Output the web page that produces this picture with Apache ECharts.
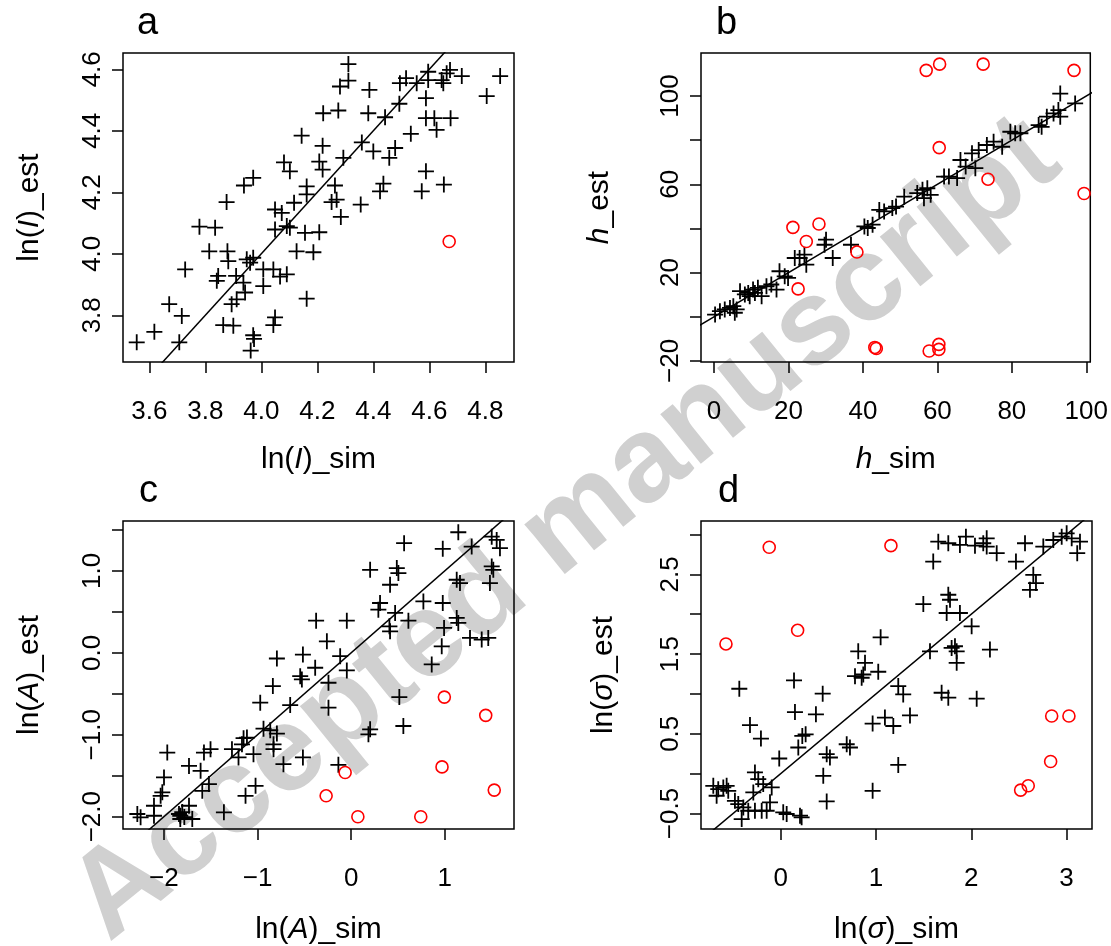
<!DOCTYPE html>
<html><head><meta charset="utf-8">
<script src="https://cdn.jsdelivr.net/npm/echarts@6/dist/echarts.min.js"></script>
<style>html,body{margin:0;padding:0;background:#fff}#c{width:1111px;height:946px}</style>
</head><body><div id="c"></div>
<script>
// ---------- data ----------
const aPlus=[[4.144,4.384],[4.081,4.297],[4.102,4.268],[3.971,4.247],[3.938,4.222],[4.162,4.219],[3.876,4.168],[4.117,4.166],[4.049,4.144],[4.073,4.133],[3.779,4.088],[3.835,4.085],[4.049,4.079],[4.091,4.090],[4.102,4.085],[4.156,4.068],[3.814,4.008],[3.879,4.008],[4.126,4.008],[3.882,3.976],[3.948,3.982],[3.971,3.987],[3.960,3.971],[3.728,3.949],[4.007,3.949],[4.043,3.949],[3.846,3.928],[3.841,3.912],[3.910,3.928],[3.936,3.906],[4.007,3.895],[4.067,3.926],[4.091,3.933],[3.942,3.874],[3.912,3.852],[3.894,3.836],[4.162,3.854],[3.671,3.836],[3.716,3.798],[4.049,3.793],[4.043,3.768],[3.864,3.768],[3.900,3.766],[3.618,3.746],[3.555,3.712],[3.707,3.712],[3.971,3.735],[3.974,3.723],[3.962,3.685],
[4.311,4.617],[4.311,4.563],[4.281,4.544],[4.386,4.533],[4.517,4.571],[4.495,4.555],[4.555,4.555],[4.596,4.592],[4.596,4.565],[4.644,4.565],[4.650,4.555],[4.674,4.598],[4.662,4.587],[4.716,4.578],[4.853,4.578],[4.805,4.513],[4.588,4.506],[4.493,4.488],[4.221,4.457],[4.275,4.466],[4.382,4.457],[4.442,4.444],[4.588,4.441],[4.618,4.441],[4.676,4.441],[4.626,4.403],[4.534,4.390],[4.219,4.351],[4.359,4.362],[4.400,4.333],[4.478,4.344],[4.457,4.312],[4.293,4.312],[4.207,4.300],[4.219,4.274],[4.588,4.268],[4.263,4.222],[4.436,4.228],[4.424,4.203],[4.573,4.203],[4.652,4.225],[4.162,4.193],[4.269,4.176],[4.251,4.168],[4.355,4.160],[4.284,4.120],[4.207,4.070],[4.186,4.005]];
const aCircle=[[4.671,4.040]];

const bPlus=[[0.3,1.0],[1.6,2.5],[2.9,3.3],[4.3,4.0],[5.6,1.8],[5.2,4.8],[6.1,3.3],[7.0,11.6],[8.3,10.1],[9.6,9.3],[9.2,10.8],[10.5,12.3],[11.0,10.8],[11.8,13.1],[12.8,9.3],[14.1,13.8],[15.4,14.6],[16.8,12.3],[17.6,20.6],[19.0,18.3],[19.9,17.6],[21.7,26.6],[23.0,26.6],[24.8,23.6],[24.3,28.1],[30.1,34.9],[29.7,32.6],[31.9,26.6],[36.8,32.6],[40.4,40.9],[41.3,40.2],[42.6,41.7],[44.4,48.4],[45.7,47.7],[47.9,49.2],[48.9,49.9],[51.1,54.4],[54.6,56.0],[56.0,57.5],[57.3,58.2],[56.4,53.7],[58.2,55.2],[61.8,63.5],[63.1,63.5],[65.3,62.8],[66.2,71.0],[67.6,68.0],[70.2,67.3],[69.3,74.0],[71.1,75.5],[73.3,77.8],[75.1,79.3],[77.4,77.0],[79.6,83.8],[80.9,83.1],[82.3,83.1],[87.2,86.8],[88.0,86.0],[89.4,90.6],[91.2,92.1],[92.5,93.6],[93.0,90.6],[93.0,101.1],[97.0,96.6]];
const bCircle=[[21.2,40.5],[28.2,42.0],[24.8,34.1],[38.4,29.3],[22.6,12.6],[43.2,-13.9],[43.6,-14.4],[57.0,111.6],[60.6,114.4],[72.3,114.4],[96.7,111.6],[60.5,76.6],[73.6,62.3],[99.4,55.8],[57.8,-15.5],[60.4,-12.5],[60.4,-14.8]];

const cPlus=[[-2.284,-1.967],[-2.249,-2.007],[-2.106,-1.866],[-2.106,-1.988],[-1.999,-1.521],[-2.017,-1.703],[-2.035,-1.745],[-1.964,-1.217],[-1.839,-1.967],[-1.825,-1.988],[-1.804,-1.943],[-1.825,-2.028],[-1.782,-2.004],[-1.732,-1.866],[-1.697,-2.028],[-1.732,-1.380],[-1.608,-1.440],[-1.572,-1.217],[-1.502,-1.176],[-1.590,-1.684],[-1.519,-1.602],[-1.359,-1.946],[-1.149,-1.042],[-1.113,-1.034],[-1.166,-1.116],[-1.203,-1.277],[-1.273,-1.176],[-1.043,-1.237],[-1.128,-1.745],[-1.021,-1.623],
[-0.793,-0.069],[-0.515,-0.021],[-0.544,-0.285],[-0.526,-0.325],[-0.836,-0.406],[-0.971,-0.608],[-0.651,-0.637],[-0.936,-0.925],[-0.864,-0.945],[-0.793,-0.985],[-0.829,-1.116],[-0.829,-1.176],[-0.723,-1.359],[-0.515,-1.277],
[1.145,1.472],[0.566,1.338],[0.979,1.269],[1.288,1.297],[1.502,1.418],[1.555,1.378],[1.590,1.277],[0.203,1.013],[0.488,1.034],[0.505,0.973],[0.416,0.831],[1.128,0.892],[1.163,0.852],[1.502,1.054],[1.519,1.013],[1.483,0.852],[0.309,0.608],[0.291,0.527],[0.470,0.487],[0.772,0.628],[0.979,0.608],[0.409,0.324],[0.416,0.263],[0.612,0.393],[1.128,0.426],[1.145,0.365],[0.993,0.304],[0.968,0.080],[1.270,0.182],[1.395,0.162],[1.465,0.182],[-0.374,0.393],[-0.046,0.393],[-0.259,0.141],[-0.117,-0.041],[-0.384,-0.182],[-0.046,-0.215],[-0.242,-0.365],[0.861,-0.142],[-0.242,-0.669],[0.515,-0.540],[0.558,-0.893],[0.203,-0.933],[0.185,-0.994],[-0.136,-1.367]];
const cCircle=[[0.996,-0.540],[1.438,-0.763],[0.971,-1.392],[1.529,-1.675],[-0.064,-1.460],[-0.267,-1.745],[0.072,-2.000],[0.744,-2.000]];

const dPlus=[[-0.707,-0.152],[-0.655,-0.194],[-0.602,-0.173],[-0.567,-0.152],[-0.550,-0.215],[-0.672,-0.277],[-0.480,-0.340],[-0.445,-0.381],[-0.392,-0.423],[-0.340,-0.465],[-0.409,-0.569],[-0.270,-0.465],[-0.199,-0.465],[-0.147,-0.465],[0.027,-0.485],[0.063,-0.506],[0.203,-0.527],[0.220,-0.548],[-0.270,0.015],[-0.235,-0.069],[-0.183,-0.131],[-0.094,-0.173],[-0.287,-0.235],[-0.112,-0.360],
[-0.434,1.065],[-0.322,0.610],[-0.207,0.440],[-0.015,0.190],[0.140,1.169],[0.150,0.773],[0.370,0.744],[0.441,1.003],[0.262,0.494],[0.227,0.473],[0.185,0.328],[0.483,0.244],[0.517,0.203],[0.447,-0.027],[0.483,-0.348],[0.693,0.369],[0.727,0.328],[0.814,1.535],[0.885,1.390],[0.780,1.223],[0.850,1.203],[0.867,1.244],[1.024,1.278],[1.049,1.710],[0.965,0.628],[0.965,-0.215],
[1.654,2.910],[1.759,2.890],[1.881,2.869],[1.944,2.973],[2.039,2.860],[2.126,2.890],[2.162,2.952],[2.162,2.848],[2.267,2.765],[2.469,2.660],[2.564,2.890],[2.756,2.848],[2.861,2.931],[2.949,2.973],[3.001,3.015],[3.054,2.952],[3.141,2.910],[3.112,2.765],[1.601,2.660],[2.651,2.494],[2.679,2.390],[2.616,2.306],[1.497,2.127],[1.759,2.244],[1.777,2.181],[1.742,2.015],[1.881,2.015],[2.004,1.848],[1.567,1.535],[1.794,1.577],[1.829,1.598],[1.847,1.535],[1.847,1.390],[2.196,1.556],[1.234,1.098],[1.286,0.994],[1.689,1.015],[1.759,0.953],[2.057,0.940],[1.094,0.703],[1.182,0.598],[1.357,0.731],[1.234,0.110]];
const dCircle=[[-0.120,2.840],[-0.574,1.627],[0.178,1.798],[1.157,2.860],[2.844,0.723],[3.025,0.723],[2.833,0.152],[2.518,-0.206],[2.598,-0.152]];

// 1:1 reference line (clipped to each panel)
const refLine=[[-200,-200],[200,200]];

// axis ranges and ticks
const xRange=[[3.506,4.9025],[-3.48,101.07],[-2.437,1.740],[-0.836,3.267]];
const yRange=[[3.648,4.653],[-20.5,119.46],[-2.150,1.609],[-0.694,3.169]];
const xTicks=[[3.6,3.8,4.0,4.2,4.4,4.6,4.8],[0,20,40,60,80,100],[-2,-1,0,1],[0,1,2,3]];
const xTickLabels=xTicks;
const yTicks=[[3.8,4.0,4.2,4.4,4.6],[-20,0,20,40,60,80,100],[-2,-1.5,-1,-0.5,0,0.5,1,1.5],[-0.5,0,0.5,1,1.5,2,2.5,3]];
const yTickLabels=[[3.8,4.0,4.2,4.4,4.6],[-20,20,60,100],[-2,-1,0,1],[-0.5,0.5,1.5,2.5]];
const xDec=[1,0,0,0], yDec=[1,0,1,1];
const xNames=['{n|ln(}{i|I}{n|)_sim}','{i|h}{n|_sim}','{n|ln(}{i|A}{n|)_sim}','{n|ln(}{i|σ}{n|)_sim}'];
const yNames=['{n|ln(}{i|I}{n|)_est}','{i|h}{n|_est}','{n|ln(}{i|A}{n|)_est}','{n|ln(}{i|σ}{n|)_est}'];
const panelLetters=['a','b','c','d'];

// ---------- chart ----------
const FONT='Liberation Sans';
const PLUS='path://M0,-1L0,1M-1,0L1,0';
const gridPos=[{left:123,top:53},{left:701,top:53},{left:123,top:521},{left:701,top:521}];
const xGap=[83,83,86,86], yGap=[78,86,78,82];
const fmt=(v,d)=>v.toFixed(d).replace('-','\u2212');
const rich={n:{fontFamily:FONT,fontSize:30,color:'#000'},i:{fontFamily:FONT,fontSize:30,fontStyle:'italic',color:'#000'}};

const grids=gridPos.map(g=>({left:g.left,top:g.top,width:391,height:309,show:true,borderColor:'#000',borderWidth:1.5,backgroundColor:'transparent'}));
const xAxes=[],yAxes=[],series=[];
for(let i=0;i<4;i++){
  xAxes.push({type:'value',gridIndex:i,min:xRange[i][0],max:xRange[i][1],
    axisLine:{show:false,onZero:false},splitLine:{show:false},
    axisTick:{show:true,length:11,lineStyle:{color:'#000',width:1.5},customValues:xTicks[i]},
    axisLabel:{show:true,customValues:xTickLabels[i],margin:37,fontFamily:FONT,fontSize:26,color:'#000',formatter:v=>fmt(v,xDec[i])},
    name:xNames[i],nameLocation:'middle',nameGap:xGap[i],nameTextStyle:{rich:rich,fontFamily:FONT,fontSize:30}});
  yAxes.push({type:'value',gridIndex:i,min:yRange[i][0],max:yRange[i][1],
    axisLine:{show:false,onZero:false},splitLine:{show:false},
    axisTick:{show:true,length:11,lineStyle:{color:'#000',width:1.5},customValues:yTicks[i]},
    axisLabel:{show:true,customValues:yTickLabels[i],rotate:90,margin:17,fontFamily:FONT,fontSize:26,color:'#000',formatter:v=>fmt(v,yDec[i])},
    name:yNames[i],nameLocation:'middle',nameGap:yGap[i],nameRotate:90,nameTextStyle:{rich:rich,fontFamily:FONT,fontSize:30}});
}
const plusSets=[aPlus,bPlus,cPlus,dPlus], circSets=[aCircle,bCircle,cCircle,dCircle];
for(let i=0;i<4;i++){
  series.push({type:'line',xAxisIndex:i,yAxisIndex:i,data:refLine,symbol:'none',clip:true,silent:true,
    lineStyle:{color:'#000',width:1.5},z:3});
  series.push({type:'scatter',xAxisIndex:i,yAxisIndex:i,data:plusSets[i],symbol:PLUS,symbolSize:16,
    itemStyle:{color:'transparent',borderColor:'#000',borderWidth:1.8,opacity:1},z:4});
  series.push({type:'scatter',xAxisIndex:i,yAxisIndex:i,data:circSets[i],symbol:'circle',symbolSize:12,
    itemStyle:{color:'transparent',borderColor:'#ff0000',borderWidth:1.6,opacity:1},z:5});
}
const letterPos=[[137,5],[716,5],[139,473],[718,473]];
const graphics=panelLetters.map((t,i)=>({type:'text',left:letterPos[i][0],top:letterPos[i][1],
  style:{text:t,fontFamily:FONT,fontSize:38,fill:'#000'}}));
graphics.push({type:'text',x:566,y:530,rotation:39*Math.PI/180,z:-1,
  style:{text:'Accepted manuscript',fontFamily:FONT,fontWeight:'bold',fontSize:121,fill:'#d0d0d0',align:'center',verticalAlign:'middle'}});

const chart=echarts.init(document.getElementById('c'));
chart.setOption({animation:false,backgroundColor:'#fff',grid:grids,xAxis:xAxes,yAxis:yAxes,series:series,graphic:graphics});
</script></body></html>
